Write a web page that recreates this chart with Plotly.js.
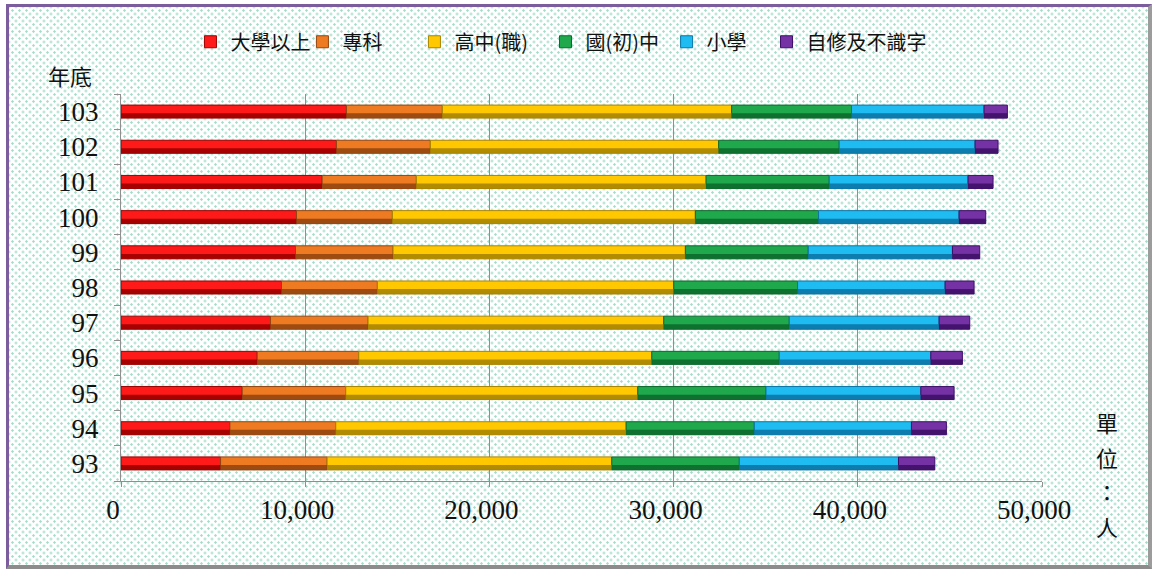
<!DOCTYPE html>
<html>
<head>
<meta charset="utf-8">
<script src="https://cdn.plot.ly/plotly-3.0.1.min.js"></script>
<style>
  html, body { margin: 0; padding: 0; background: #ffffff; }
  #frame {
    position: absolute; left: 6px; top: 4px; width: 1146px; height: 565px;
    box-sizing: border-box;
    border-left: 3px solid #7b5c9c; border-top: 3px solid #7b5c9c;
    border-right: 4px solid #9c9c9c; border-bottom: 4px solid #8c8c8c;
    background-color: #ffffff;
    background-image:
      radial-gradient(circle, #a3dcc8 0.9px, rgba(255,255,255,0) 1.5px),
      radial-gradient(circle, #a3dcc8 0.9px, rgba(255,255,255,0) 1.5px);
    background-size: 7px 7px, 7px 7px;
    background-position: 0 0, 3.5px 3.5px;
  }
  #chart { position: absolute; left: 0; top: 0; width: 1156px; height: 572px; }
</style>
</head>
<body>
<div id="frame"></div>
<div id="chart"></div>
<script>
// Year-end (ROC year), bottom to top
const years = ['93','94','95','96','97','98','99','100','101','102','103'];

const seriesNames = ['大學以上','專科','高中(職)','國(初)中','小學','自修及不識字'];

const univ      = [5405, 5911, 6580, 7394, 8116, 8713, 9474, 9528, 10919, 11697, 12240];
const college   = [5783, 5748, 5622, 5513, 5297, 5206, 5296, 5206, 5116, 5098, 5205];
const senior    = [15455, 15765, 15852, 15906, 16050, 16087, 15870, 16448, 15727, 15652, 15705];
const junior    = [6925, 6958, 6963, 6924, 6817, 6724, 6670, 6687, 6687, 6544, 6510];
const primary   = [8641, 8530, 8405, 8226, 8135, 8010, 7828, 7630, 7538, 7376, 7195];
const selfStudy = [1972, 1898, 1806, 1715, 1663, 1572, 1482, 1446, 1356, 1247, 1265];

const xTickVals = [0, 10000, 20000, 30000, 40000, 50000];

const mainColors = ['#ff1a1a','#ee7a22','#ffc800','#1fa84c','#1ebcf0','#7432a4'];
const darkColors = ['#9c0000','#934610','#a98400','#0c6a2c','#0a76a6','#3e1068'];

const seriesData = [univ, college, senior, junior, primary, selfStudy];

// legend entry positions (fraction of plot width), one small legend per series
const legendX = [0.0754, 0.1970, 0.3186, 0.4609, 0.5924, 0.7009];

const traces = [];
const strips = [];
let cumulative = years.map(() => 0);
seriesData.forEach((vals, i) => {
  const base = cumulative.slice();
  traces.push({
    type: 'bar', orientation: 'h', name: seriesNames[i],
    y: years, x: vals, base: base,
    width: 0.37, offset: -0.185,
    marker: { color: mainColors[i], line: { color: darkColors[i], width: 1 } },
    legend: i === 0 ? 'legend' : 'legend' + (i + 1),
    hoverinfo: 'skip'
  });
  strips.push({
    type: 'bar', orientation: 'h', name: seriesNames[i] + ' shade',
    y: years, x: vals, base: base,
    width: 0.14, offset: -0.185,
    marker: { color: darkColors[i], opacity: 0.9, line: { width: 0 } },
    showlegend: false, hoverinfo: 'skip'
  });
  cumulative = cumulative.map((c, j) => c + vals[j]);
});

const unitChars = ['單','位','：','人'];
const annotations = [
  { text: '年底', xref: 'paper', yref: 'paper', x: -0.0554, y: 1.049, xanchor: 'center', yanchor: 'middle',
    showarrow: false, font: { family: 'Noto Sans CJK TC', size: 22, color: '#111' } }
];
unitChars.forEach((ch, k) => {
  annotations.push({ text: ch, xref: 'paper', yref: 'paper', x: 1.0706, y: 0.152 - k * 0.0895,
    xanchor: 'center', yanchor: 'middle', showarrow: false,
    font: { family: 'Noto Sans CJK TC', size: 22, color: '#111' } });
});

const legendBase = {
  orientation: 'h', xanchor: 'left', y: 1.135, yanchor: 'middle',
  font: { family: 'Noto Sans CJK TC', size: 20, color: '#111' },
  bgcolor: 'rgba(0,0,0,0)', itemwidth: 30, itemclick: false
};

const layout = {
  width: 1156, height: 572,
  margin: { l: 121, r: 114, t: 94, b: 91 },
  paper_bgcolor: 'rgba(0,0,0,0)', plot_bgcolor: 'rgba(0,0,0,0)',
  barmode: 'overlay',
  showlegend: true,
  xaxis: {
    range: [0, 50000], tickvals: xTickVals, tickformat: ',', separatethousands: true,
    showgrid: true, gridcolor: '#8f8f8f', gridwidth: 1,
    zeroline: false, showline: true, linecolor: '#8f8f8f', linewidth: 1,
    ticks: 'outside', ticklen: 5, tickcolor: '#8f8f8f',
    tickfont: { family: 'Liberation Serif', size: 27, color: '#111' },
    ticklabelstandoff: 0, ticklabelshift: -8, fixedrange: true
  },
  yaxis: {
    type: 'category', categoryorder: 'array', categoryarray: years,
    showline: true, linecolor: '#8f8f8f', linewidth: 1, showgrid: false, zeroline: false,
    ticks: 'outside', ticklen: 6, tickcolor: '#8f8f8f', tickson: 'boundaries',
    tickfont: { family: 'Liberation Serif', size: 27, color: '#111' },
    ticklabelstandoff: 16, fixedrange: true
  },
  annotations: annotations
};
legendX.forEach((lx, i) => {
  layout[i === 0 ? 'legend' : 'legend' + (i + 1)] = Object.assign({}, legendBase, { x: lx });
});

Plotly.newPlot('chart', traces.concat(strips), layout, { displayModeBar: false, staticPlot: true });
</script>
</body>
</html>
